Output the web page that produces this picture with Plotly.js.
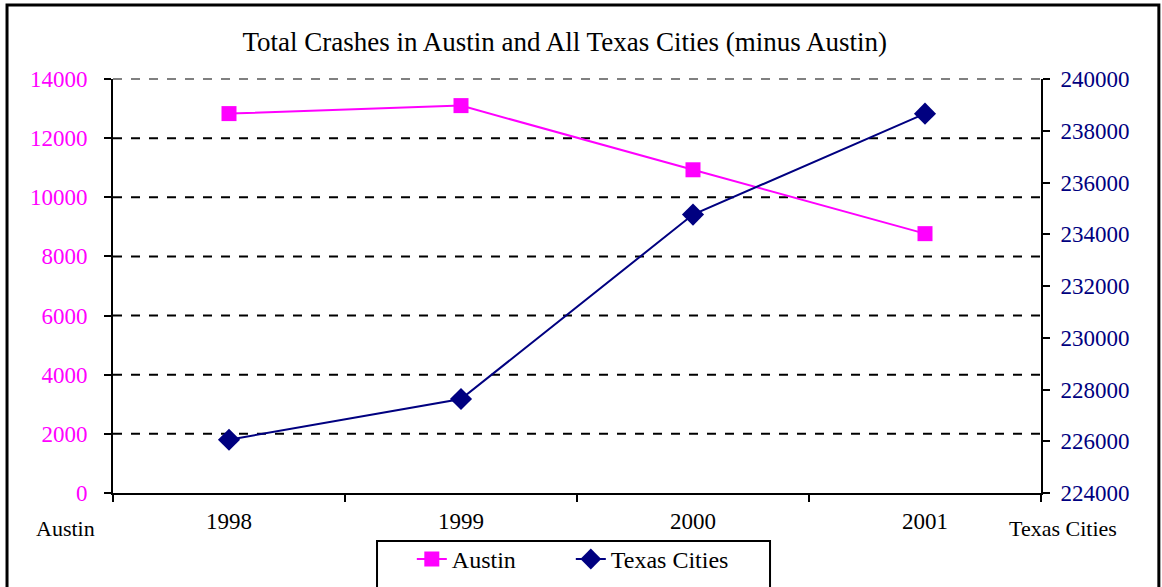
<!DOCTYPE html>
<html>
<head>
<meta charset="utf-8">
<script src="https://cdn.plot.ly/plotly-3.0.1.min.js"></script>
<style>html,body{margin:0;padding:0;background:#fff;}#chart{width:1162px;height:587px;}</style>
</head>
<body>
<div id="chart"></div>
<script>
const years = ["1998", "1999", "2000", "2001"];
const austinCrashes = [12830, 13100, 10930, 8770];
const texasCitiesCrashes = [226060, 227630, 234760, 238660];
const leftGridValues = [2000, 4000, 6000, 8000, 10000, 12000];
const chartTitle = "Total Crashes in Austin and All Texas Cities (minus Austin)";
const leftAxisLabel = "Austin";
const rightAxisLabel = "Texas Cities";

const FONT = "Liberation Serif, serif";
const MAGENTA = "#FF00FF";
const NAVY = "#000080";

const traces = [
  {
    x: years, y: austinCrashes, name: "Austin", type: "scatter", mode: "lines+markers",
    line: {color: MAGENTA, width: 2},
    marker: {symbol: "square", size: 15, color: MAGENTA},
    yaxis: "y", cliponaxis: false
  },
  {
    x: years, y: texasCitiesCrashes, name: "Texas Cities", type: "scatter", mode: "lines+markers",
    line: {color: NAVY, width: 2},
    marker: {symbol: "diamond", size: 17, color: NAVY},
    yaxis: "y2", cliponaxis: false
  }
];

const shapes = leftGridValues.map(v => ({
  type: "line", xref: "paper", yref: "y", x0: 0, x1: 1, y0: v, y1: v,
  line: {color: "#000", width: 2, dash: "dash"}, layer: "below"
}));
// top border of plot area (grey dashed)
shapes.push({type: "line", xref: "paper", yref: "paper", x0: 0, x1: 1, y0: 1, y1: 1,
  line: {color: "#808080", width: 2, dash: "dash"}, layer: "below"});
// outer chart border
shapes.push({type: "rect", xref: "paper", yref: "paper", x0: -0.1142, x1: 1.127, y0: -0.4, y1: 1.1787,
  line: {color: "#000", width: 3}, fillcolor: "rgba(0,0,0,0)"});
// legend box
shapes.push({type: "rect", xref: "paper", yref: "paper", x0: 0.2845, x1: 0.708, y0: -0.4, y1: -0.116,
  line: {color: "#000", width: 2}, fillcolor: "rgba(0,0,0,0)"});

const layout = {
  width: 1162, height: 587,
  margin: {l: 113, r: 121, t: 79, b: 94, autoexpand: false},
  paper_bgcolor: "#fff", plot_bgcolor: "#fff",
  font: {family: FONT, size: 23, color: "#000"},
  title: {text: chartTitle, font: {family: FONT, size: 27, color: "#000"},
          xref: "container", x: 0.486, xanchor: "center", yref: "container", y: 0.93, yanchor: "middle"},
  showlegend: true,
  legend: {orientation: "h", x: 0.322, xanchor: "left", y: -0.106, yanchor: "top",
           bgcolor: "rgba(0,0,0,0)", borderwidth: 0, font: {family: FONT, size: 24, color: "#000"},
           itemwidth: 30, tracegroupgap: 0, entrywidth: 114, entrywidthmode: "pixels"},
  xaxis: {
    type: "category", range: [-0.5, 3.5], showgrid: false, zeroline: false,
    showline: true, linecolor: "#000", linewidth: 2,
    ticks: "outside", ticklen: 7, tickwidth: 2, tickcolor: "#000", tickson: "boundaries",
    tickfont: {family: FONT, size: 23, color: "#000"}, ticklabelstandoff: 6
  },
  yaxis: {
    range: [0, 14000], dtick: 2000, tick0: 0, tickformat: "d", showgrid: false, zeroline: false,
    showline: true, linecolor: "#000", linewidth: 2,
    ticks: "outside", ticklen: 7, tickwidth: 2, tickcolor: "#000",
    tickfont: {family: FONT, size: 23, color: MAGENTA}, ticklabelstandoff: 12
  },
  yaxis2: {
    overlaying: "y", side: "right", range: [224000, 240000], dtick: 2000, tick0: 224000, tickformat: "d",
    showgrid: false, zeroline: false,
    showline: true, linecolor: "#000", linewidth: 2,
    ticks: "outside", ticklen: 7, tickwidth: 2, tickcolor: "#000",
    tickfont: {family: FONT, size: 23, color: NAVY}, ticklabelstandoff: 6
  },
  shapes: shapes,
  annotations: [
    {text: leftAxisLabel, xref: "paper", yref: "paper", x: -0.0517, y: -0.085, xanchor: "center", yanchor: "middle",
     showarrow: false, font: {family: FONT, size: 22, color: "#000"}},
    {text: rightAxisLabel, xref: "paper", yref: "paper", x: 1.0237, y: -0.085, xanchor: "center", yanchor: "middle",
     showarrow: false, font: {family: FONT, size: 22, color: "#000"}}
  ]
};

Plotly.newPlot("chart", traces, layout, {displayModeBar: false, staticPlot: true});
</script>
</body>
</html>
